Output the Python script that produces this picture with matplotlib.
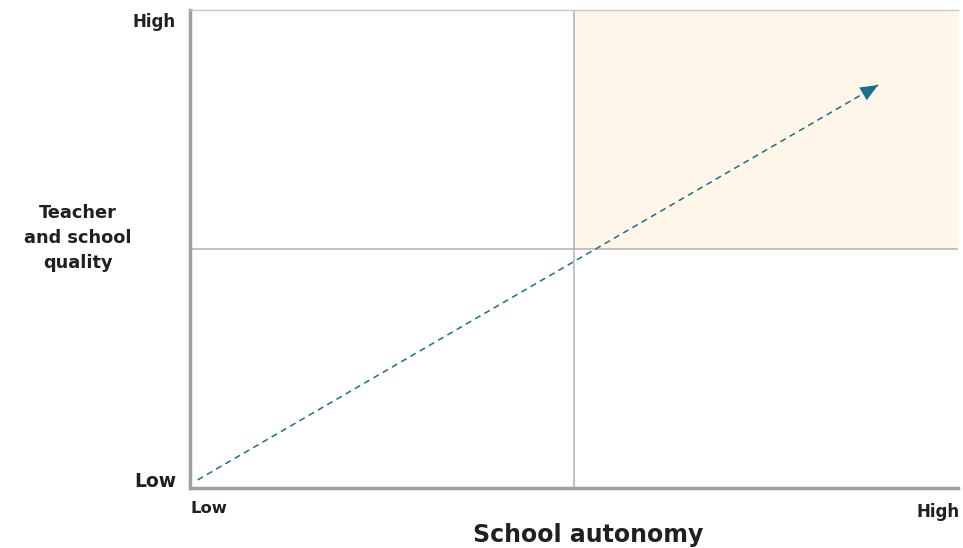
import matplotlib.pyplot as plt
from matplotlib.patches import Rectangle

# Axis labels and tick texts
x_title = "School autonomy"
y_title = "Teacher\nand school\nquality"
x_tick_labels = ["Low", "High"]
y_tick_labels = ["Low", "High"]

# Quadrant split and highlighted quadrant (high/high)
split = 0.5
highlight_x = [0.5, 1.0]
highlight_y = [0.5, 1.0]

# Trend arrow: start and end points in data units
arrow_x = [0.01, 0.896]
arrow_y = [0.017, 0.843]

plt.rcParams['font.family'] = ['DejaVu Sans']
TEXT = '#231f20'

W, H = 963, 548
fig = plt.figure(figsize=(W / 100, H / 100), dpi=100)
ax = fig.add_axes([190 / W, 1 - 488 / H, 768 / W, 478 / H])
ax.set_xlim(0, 1)
ax.set_ylim(0, 1)


def px(x, y):
    # pixel position (from top-left) -> figure fraction
    return x / W, 1 - y / H


# Shaded quadrant
ax.add_patch(Rectangle((highlight_x[0], highlight_y[0]),
                       highlight_x[1] - highlight_x[0],
                       highlight_y[1] - highlight_y[0],
                       facecolor='#fef7e9', edgecolor='none', zorder=0))

# Quadrant lines
ax.axvline(split, color='#b0b0b0', linewidth=1.1, zorder=1)
ax.axhline(split, color='#b0b0b0', linewidth=1.1, zorder=1)

# Dashed arrow
ax.plot(arrow_x, arrow_y, color='#1c6f8c', linewidth=1.1,
        linestyle=(0, (4, 3)), zorder=2)
ax.annotate('', xy=(arrow_x[1], arrow_y[1]),
            xytext=(arrow_x[1] - 0.012, arrow_y[1] - 0.0112),
            arrowprops=dict(arrowstyle='-|>,head_length=0.9,head_width=0.38',
                            color='#1c6f8c', mutation_scale=14, lw=0,
                            shrinkA=0, shrinkB=0),
            zorder=3)

# Spines
ax.spines['top'].set_color('#c8c8c8')
ax.spines['top'].set_linewidth(1.0)
ax.spines['right'].set_visible(False)
for side in ['left', 'bottom']:
    ax.spines[side].set_color('#9d9fa2')
    ax.spines[side].set_linewidth(2.5)

ax.set_xticks([])
ax.set_yticks([])

# Tick labels as text
fig.text(*px(176, 27), y_tick_labels[1], ha='right', va='baseline',
         fontsize=12, fontweight='bold', color=TEXT)
fig.text(*px(176, 487), y_tick_labels[0], ha='right', va='baseline',
         fontsize=13.5, fontweight='bold', color=TEXT)
fig.text(*px(190, 513), x_tick_labels[0], ha='left', va='baseline',
         fontsize=11.8, fontweight='bold', color=TEXT)
fig.text(*px(960, 517), x_tick_labels[1], ha='right', va='baseline',
         fontsize=12, fontweight='bold', color=TEXT)

# Axis titles
fig.text(*px(588, 542), x_title, ha='center', va='baseline',
         fontsize=17, fontweight='bold', color=TEXT)
fig.text(*px(78, 238), y_title, ha='center', va='center',
         fontsize=12.8, fontweight='bold', color=TEXT, linespacing=1.5)

fig.savefig('out.png', dpi=100)
